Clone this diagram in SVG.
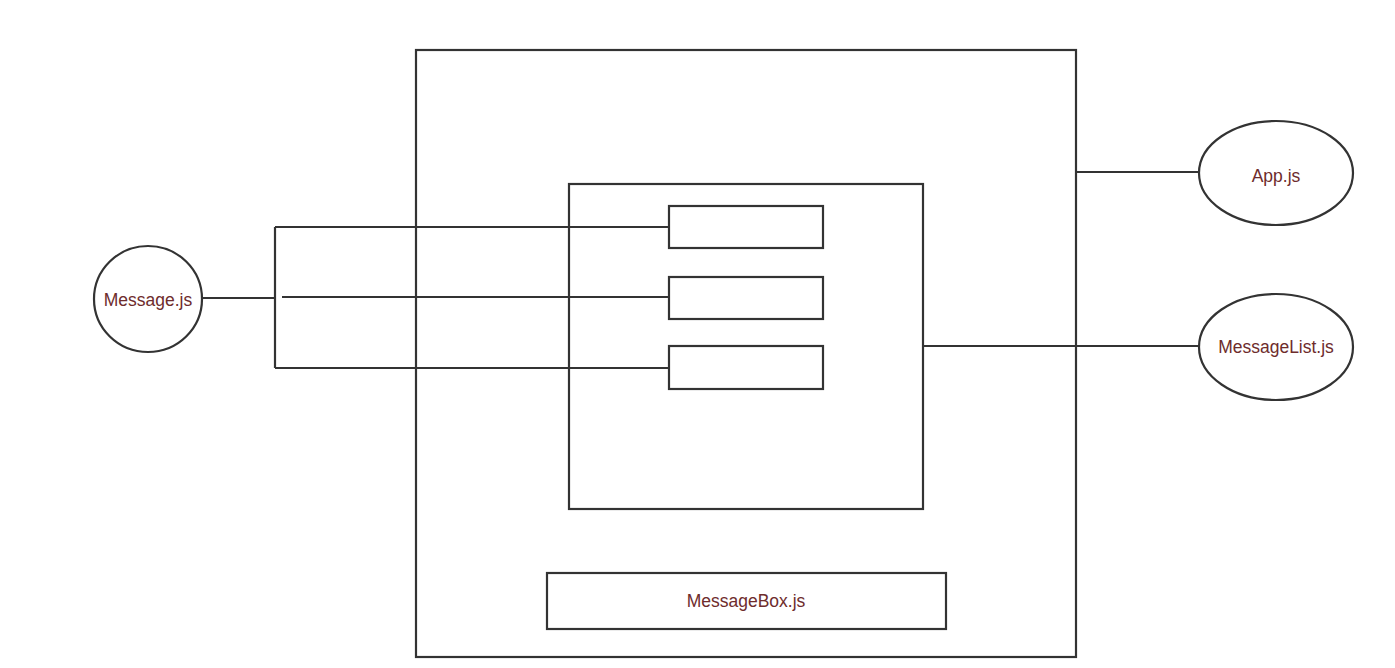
<svg xmlns="http://www.w3.org/2000/svg" width="1395" height="668" viewBox="0 0 1395 668">
<style>
.s{fill:#fff;stroke:#333;stroke-width:2.2}
.c{fill:none;stroke:#333;stroke-width:2.2}
.t{font-family:"Liberation Sans",Arial,sans-serif;font-size:17.5px;fill:#6e2c2c;text-anchor:middle;dominant-baseline:central}
</style>
<rect width="1395" height="668" fill="#fff"/>
<g id="app-container"><rect class="s" x="416" y="50" width="660" height="607"/></g>
<g id="messagelist-container"><rect class="s" x="569" y="184" width="354" height="325"/></g>
<g id="msg1"><rect class="s" x="669" y="206" width="154" height="42"/></g>
<g id="msg2"><rect class="s" x="669" y="277" width="154" height="42"/></g>
<g id="msg3"><rect class="s" x="669" y="346" width="154" height="43"/></g>
<g id="messagebox"><rect class="s" x="547" y="573" width="399" height="56"/><text class="t" x="746" y="601">MessageBox.js</text></g>
<g id="message"><ellipse class="s" cx="148" cy="299" rx="54" ry="53"/><text class="t" x="148" y="300">Message.js</text></g>
<g id="app"><ellipse class="s" cx="1276" cy="173" rx="77" ry="52"/><text class="t" x="1276" y="176">App.js</text></g>
<g id="messagelist"><ellipse class="s" cx="1276" cy="347" rx="77" ry="53"/><text class="t" x="1276" y="347">MessageList.js</text></g>
<g id="connectors">
<path class="c" d="M202 298 H275 M275 227 V368 M275 227 H669 M282 297 H669 M275 368 H669"/>
<path class="c" d="M1076 172 H1199"/>
<path class="c" d="M923 346 H1199"/>
</g>
</svg>
